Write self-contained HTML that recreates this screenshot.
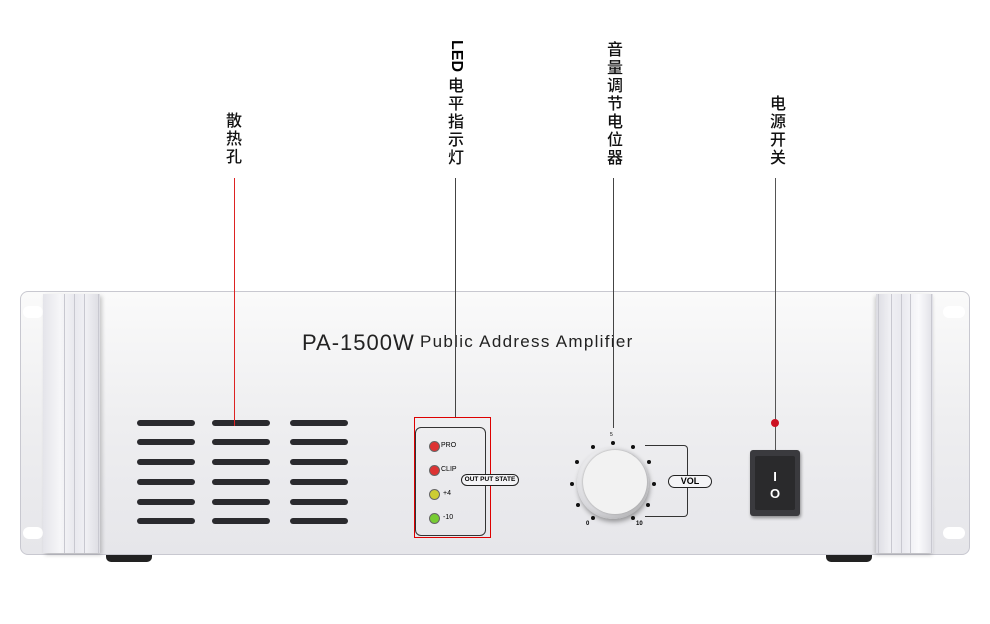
<!DOCTYPE html>
<html><head><meta charset="utf-8"><style>
body{margin:0;width:990px;height:624px;background:#fff;position:relative;overflow:hidden;font-family:"Liberation Sans","Noto Sans CJK SC",sans-serif}
.a{position:absolute}
.vt{position:absolute;width:20px;text-align:center;font-size:16px;line-height:18px;color:#111;font-family:"Noto Sans CJK SC",sans-serif;font-weight:500}
.vent{position:absolute;height:6px;width:58px;background:#2a2a2e;border-radius:3px}
.led{position:absolute;width:9px;height:9px;border-radius:50%;border:1px solid #666}
.dot{position:absolute;width:4px;height:4px;border-radius:50%;background:#111}
.g{position:absolute;top:294px;width:1px;height:259px;background:#c8c8d0}
</style></head><body>
<div class="vt" style="left:224px;top:110px">散<br>热<br>孔</div>
<div class="a" style="left:446px;top:40px;width:20px;font-size:16px;font-weight:bold;writing-mode:vertical-rl;line-height:20px">LED</div>
<div class="vt" style="left:446px;top:75px">电<br>平<br>指<br>示<br>灯</div>
<div class="vt" style="left:605px;top:39px">音<br>量<br>调<br>节<br>电<br>位<br>器</div>
<div class="vt" style="left:768px;top:93px">电<br>源<br>开<br>关</div>

<div class="a" style="left:20px;top:291px;width:950px;height:264px;border-radius:8px;background:linear-gradient(#fafafa,#eeeef0 50%,#e6e6ea);border:1px solid #c8c8d0;box-sizing:border-box"></div>
<div class="a" style="left:23px;top:306px;width:20px;height:12px;background:#fff;border-radius:6px"></div>
<div class="a" style="left:23px;top:527px;width:20px;height:12px;background:#fff;border-radius:6px"></div>
<div class="a" style="left:943px;top:306px;width:22px;height:12px;background:#fff;border-radius:6px"></div>
<div class="a" style="left:943px;top:527px;width:22px;height:12px;background:#fff;border-radius:6px"></div>
<div class="a" style="left:43px;top:294px;width:57px;height:259px;background:linear-gradient(90deg,#e4e4ea,#f6f6f8 30%,#e8e8ee 55%,#f0f0f4 75%,#dcdce2);box-shadow:2px 2px 4px rgba(0,0,0,.2)"></div>
<div class="g" style="left:64px"></div><div class="g" style="left:74px"></div><div class="g" style="left:84px"></div><div class="g" style="left:98px"></div>
<div class="a" style="left:876px;top:294px;width:57px;height:259px;background:linear-gradient(90deg,#dcdce2,#f0f0f4 25%,#e8e8ee 45%,#fafafc 75%,#e0e0e6);box-shadow:-1px 2px 4px rgba(0,0,0,.2)"></div>
<div class="g" style="left:878px"></div><div class="g" style="left:891px"></div><div class="g" style="left:901px"></div><div class="g" style="left:910px"></div><div class="g" style="left:931px"></div>
<div class="a" style="left:106px;top:555px;width:46px;height:7px;background:#222;border-radius:0 0 5px 5px"></div>
<div class="a" style="left:826px;top:555px;width:46px;height:7px;background:#222;border-radius:0 0 5px 5px"></div>

<div class="a" style="left:302px;top:330px;font-size:22px;color:#222;letter-spacing:1px">PA-1500W</div>
<div class="a" style="left:420px;top:332px;font-size:17px;color:#222;letter-spacing:1.3px">Public Address Amplifier</div>

<div class="vent" style="left:137px;top:420px"></div><div class="vent" style="left:212px;top:420px"></div><div class="vent" style="left:290px;top:420px"></div>
<div class="vent" style="left:137px;top:439px"></div><div class="vent" style="left:212px;top:439px"></div><div class="vent" style="left:290px;top:439px"></div>
<div class="vent" style="left:137px;top:459px"></div><div class="vent" style="left:212px;top:459px"></div><div class="vent" style="left:290px;top:459px"></div>
<div class="vent" style="left:137px;top:479px"></div><div class="vent" style="left:212px;top:479px"></div><div class="vent" style="left:290px;top:479px"></div>
<div class="vent" style="left:137px;top:499px"></div><div class="vent" style="left:212px;top:499px"></div><div class="vent" style="left:290px;top:499px"></div>
<div class="vent" style="left:137px;top:518px"></div><div class="vent" style="left:212px;top:518px"></div><div class="vent" style="left:290px;top:518px"></div>

<div class="a" style="left:234px;top:178px;width:1px;height:248px;background:#d22"></div>
<div class="a" style="left:455px;top:178px;width:1px;height:240px;background:#444"></div>
<div class="a" style="left:613px;top:178px;width:1px;height:250px;background:#444"></div>
<div class="a" style="left:775px;top:178px;width:1px;height:272px;background:#555"></div>

<div class="a" style="left:414px;top:417px;width:77px;height:121px;border:1px solid #d00;box-sizing:border-box"></div>
<div class="a" style="left:415px;top:427px;width:71px;height:109px;border:1px solid #333;border-radius:6px;box-sizing:border-box"></div>
<div class="led" style="left:429px;top:441px;background:#d33"></div><div class="a" style="left:441px;top:442px;font-size:7px">PRO</div>
<div class="led" style="left:429px;top:465px;background:#d33"></div><div class="a" style="left:441px;top:466px;font-size:7px">CLIP</div>
<div class="led" style="left:429px;top:489px;background:#cc3"></div><div class="a" style="left:443px;top:490px;font-size:7px">+4</div>
<div class="led" style="left:429px;top:513px;background:#7c3"></div><div class="a" style="left:443px;top:514px;font-size:7px">-10</div>
<div class="a" style="left:461px;top:474px;width:58px;height:12px;border:1.5px solid #222;border-radius:6px;background:#f4f4f6;box-sizing:border-box;font-size:6.5px;font-weight:bold;text-align:center;line-height:10px">OUT PUT STATE</div>

<div class="a" style="left:645px;top:445px;width:43px;height:72px;border:1.5px solid #333;border-left:none;border-radius:0 4px 4px 0;box-sizing:border-box"></div>
<div class="a" style="left:668px;top:475px;width:44px;height:13px;border:1.5px solid #222;border-radius:7px;background:#f4f4f6;box-sizing:border-box;font-size:9px;font-weight:bold;text-align:center;line-height:11px">VOL</div>
<div class="a" style="left:577px;top:447px;width:72px;height:72px;border-radius:50%;background:radial-gradient(circle at 40% 35%,#fff,#d8d8dc 60%,#888);box-shadow:1px 3px 5px rgba(0,0,0,.35)"></div>
<div class="a" style="left:583px;top:450px;width:64px;height:64px;border-radius:50%;background:#f2f2f2;box-shadow:0 0 2px #999"></div>
<div class="dot" style="left:611px;top:441px"></div>
<div class="dot" style="left:591px;top:445px"></div><div class="dot" style="left:631px;top:445px"></div>
<div class="dot" style="left:575px;top:460px"></div><div class="dot" style="left:647px;top:460px"></div>
<div class="dot" style="left:570px;top:482px"></div><div class="dot" style="left:652px;top:482px"></div>
<div class="dot" style="left:576px;top:503px"></div><div class="dot" style="left:646px;top:503px"></div>
<div class="dot" style="left:591px;top:516px"></div><div class="dot" style="left:631px;top:516px"></div>
<div class="a" style="left:586px;top:521px;font-size:6px;font-weight:bold">0</div>
<div class="a" style="left:636px;top:521px;font-size:6px;font-weight:bold">10</div>
<div class="a" style="left:610px;top:432px;font-size:5px">5</div>

<div class="a" style="left:771px;top:419px;width:8px;height:8px;border-radius:50%;background:#c12"></div>
<div class="a" style="left:750px;top:450px;width:50px;height:66px;background:#3a3a3e;border-radius:3px;box-shadow:1px 2px 3px rgba(0,0,0,.4)"></div>
<div class="a" style="left:755px;top:456px;width:40px;height:54px;background:#2a2a2c;border-radius:2px;color:#fff;text-align:center;font-size:13px;font-weight:bold;line-height:17px;padding-top:12px;box-sizing:border-box">I<br>O</div>
</body></html>
